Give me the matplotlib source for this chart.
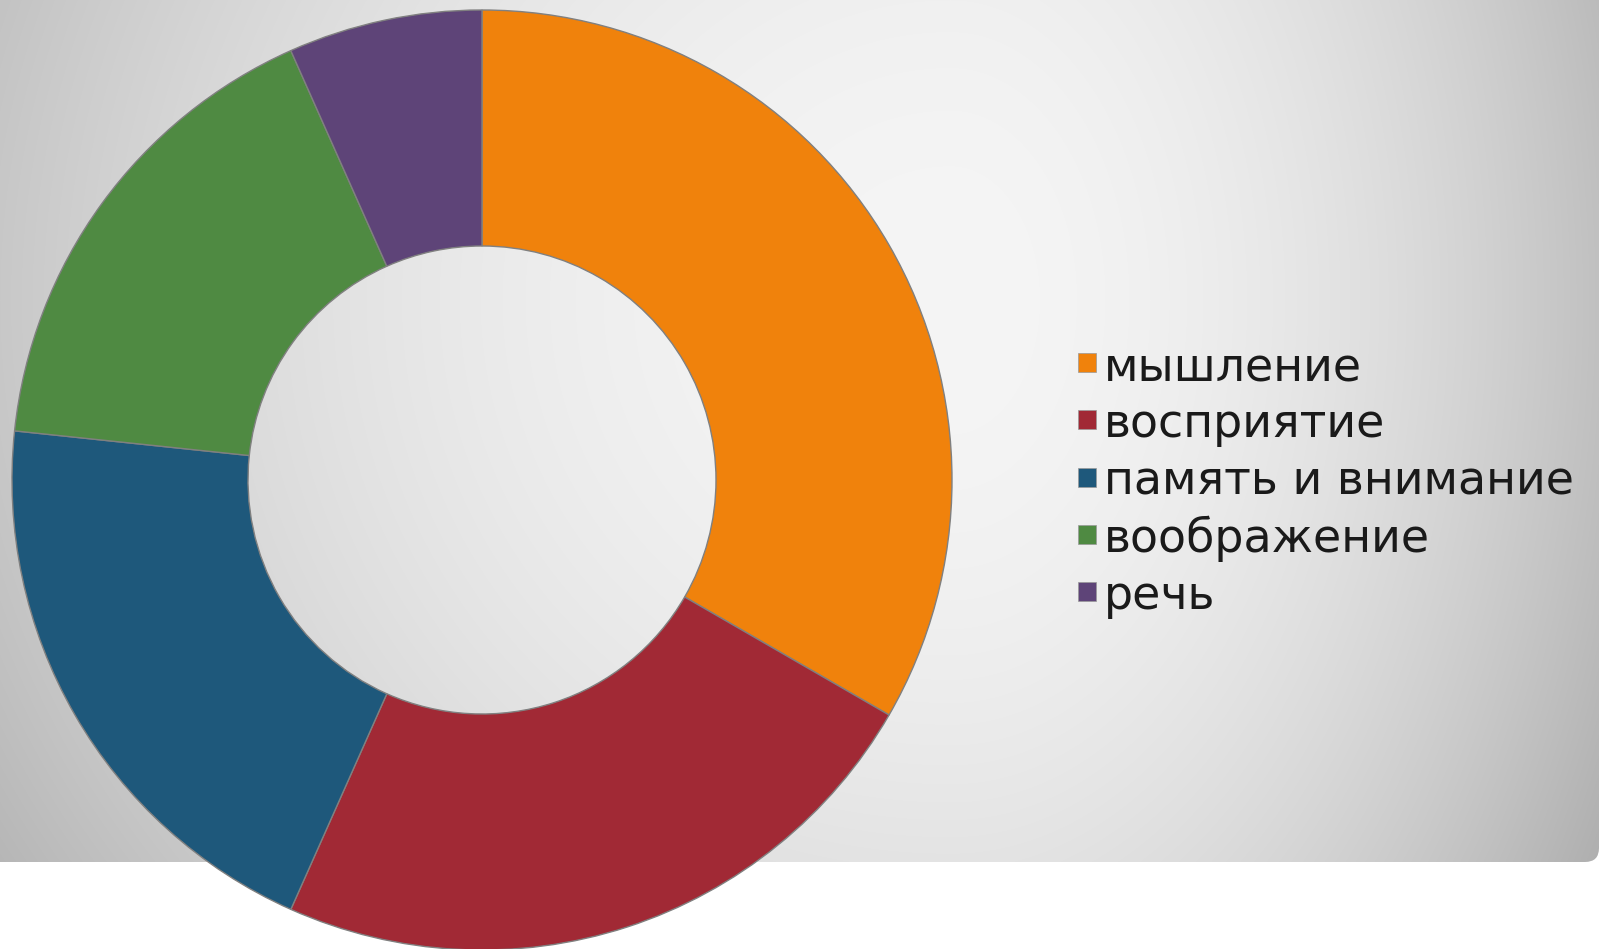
import numpy as np
import matplotlib
matplotlib.use("Agg")
import matplotlib.pyplot as plt
from matplotlib.patches import FancyBboxPatch, Rectangle

labels = ["мышление", "восприятие", "память и внимание", "воображение", "речь"]
values = [10, 7, 6, 5, 2]
colors = ["#F0820C", "#A12935", "#1E587B", "#4F8A42", "#5E4478"]

W, H = 1600, 949
fig = plt.figure(figsize=(W / 100, H / 100), dpi=100)
fig.patch.set_facecolor("white")
ax = fig.add_axes([0, 0, 1, 1])

# grey radial background (slide-like), ends at y=862 with a rounded corner
yy, xx = np.mgrid[0:H, 0:W]
cx, cy = 950, 300
dx = np.where(xx < cx, (xx - cx) / 950.0, (xx - cx) / 600.0)
dy = (yy - cy) / 900.0
g = 245 - 45 * (dx ** 2 + dy ** 2)
g = np.clip(g, 0, 255) / 255.0
img = np.dstack([g, g, g])
im = ax.imshow(img, extent=(0, W, 0, H), origin="upper", aspect="auto", zorder=0)
box = FancyBboxPatch((-60, H - 862), W - 1 + 60, 862 + 60,
                     boxstyle="round,pad=0,rounding_size=14",
                     transform=ax.transData, facecolor="none", edgecolor="none")
ax.add_patch(box)
im.set_clip_path(box)

wedges, _ = ax.pie(values, colors=colors, startangle=90, counterclock=False,
                   center=(482, H - 480), radius=470,
                   wedgeprops=dict(width=236, edgecolor="#808080", linewidth=1))
for w in wedges:
    w.set_zorder(2)

# legend
base0 = 380
step = 57.3
for i, (lab, c) in enumerate(zip(labels, colors)):
    b = base0 + step * i
    ax.add_patch(Rectangle((1078, H - b + 8), 18, 19, facecolor=c,
                           edgecolor="#999999", linewidth=0.5, zorder=3))
    ax.text(1104, H - b, lab, fontsize=33, family="DejaVu Sans",
            color="#1a1a1a", va="baseline", ha="left", zorder=3)

ax.set_xlim(0, W)
ax.set_ylim(0, H)
ax.set_axis_off()
fig.savefig("out.png", dpi=100)
